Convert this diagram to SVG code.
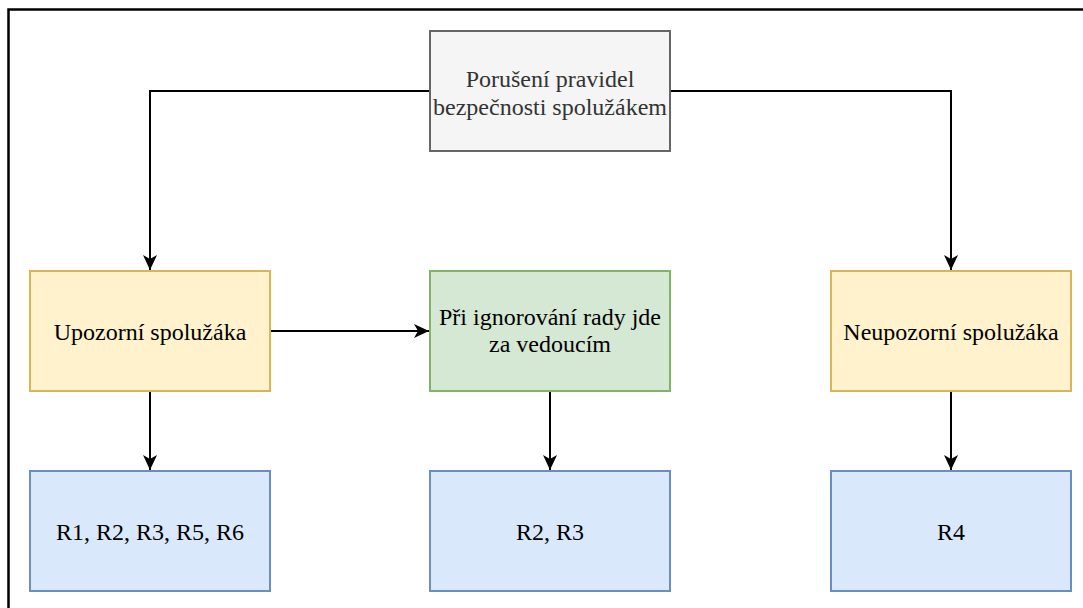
<svg xmlns="http://www.w3.org/2000/svg" width="1083" height="608" viewBox="0 0 1083 608">
<defs>
<style>
.t{font-family:"Liberation Serif","Times New Roman",serif;font-size:24px;text-anchor:middle;fill:#000}
.g{fill:#f5f5f5;stroke:#666666;stroke-width:2}
.y{fill:#fff2cc;stroke:#d6b656;stroke-width:2}
.gr{fill:#d5e8d4;stroke:#82b366;stroke-width:2}
.b{fill:#dae8fc;stroke:#6c8ebf;stroke-width:2}
.c{fill:none;stroke:#000;stroke-width:2}
</style>
<marker id="a" viewBox="0 0 15 14" refX="15" refY="7" markerWidth="15" markerHeight="14" markerUnits="userSpaceOnUse" orient="auto">
<path d="M0,0 L15,7 L0,14 L4,7 Z" fill="#000"/>
</marker>
</defs>
<rect width="1083" height="608" fill="#fff"/>
<path d="M1083,9.5 H8.5 V608" fill="none" stroke="#000" stroke-width="2.5"/>
<g id="connectors">
<path class="c" d="M430,91 H150 V270" marker-end="url(#a)"/>
<path class="c" d="M670,91 H951 V270" marker-end="url(#a)"/>
<path class="c" d="M270,331 H429" marker-end="url(#a)"/>
<path class="c" d="M150,391 V470" marker-end="url(#a)"/>
<path class="c" d="M550,391 V470" marker-end="url(#a)"/>
<path class="c" d="M951,391 V470" marker-end="url(#a)"/>
</g>
<g id="n_top">
<rect class="g" x="430" y="31" width="240" height="120"/>
<text class="t" x="550" y="87" style="fill:#333">Porušení pravidel</text>
<text class="t" x="550" y="115" style="fill:#333">bezpečnosti spolužákem</text>
</g>
<g id="n_upozorni">
<rect class="y" x="30" y="271" width="240" height="120"/>
<text class="t" x="150" y="340">Upozorní spolužáka</text>
</g>
<g id="n_ignor">
<rect class="gr" x="430" y="271" width="240" height="120"/>
<text class="t" x="550" y="325">Při ignorování rady jde</text>
<text class="t" x="550" y="352">za vedoucím</text>
</g>
<g id="n_neupozorni">
<rect class="y" x="831" y="271" width="240" height="120"/>
<text class="t" x="951" y="340">Neupozorní spolužáka</text>
</g>
<g id="n_r1">
<rect class="b" x="30" y="471" width="240" height="120"/>
<text class="t" x="150" y="540">R1, R2, R3, R5, R6</text>
</g>
<g id="n_r2">
<rect class="b" x="430" y="471" width="240" height="120"/>
<text class="t" x="550" y="540">R2, R3</text>
</g>
<g id="n_r4">
<rect class="b" x="831" y="471" width="240" height="120"/>
<text class="t" x="951" y="540">R4</text>
</g>
</svg>
